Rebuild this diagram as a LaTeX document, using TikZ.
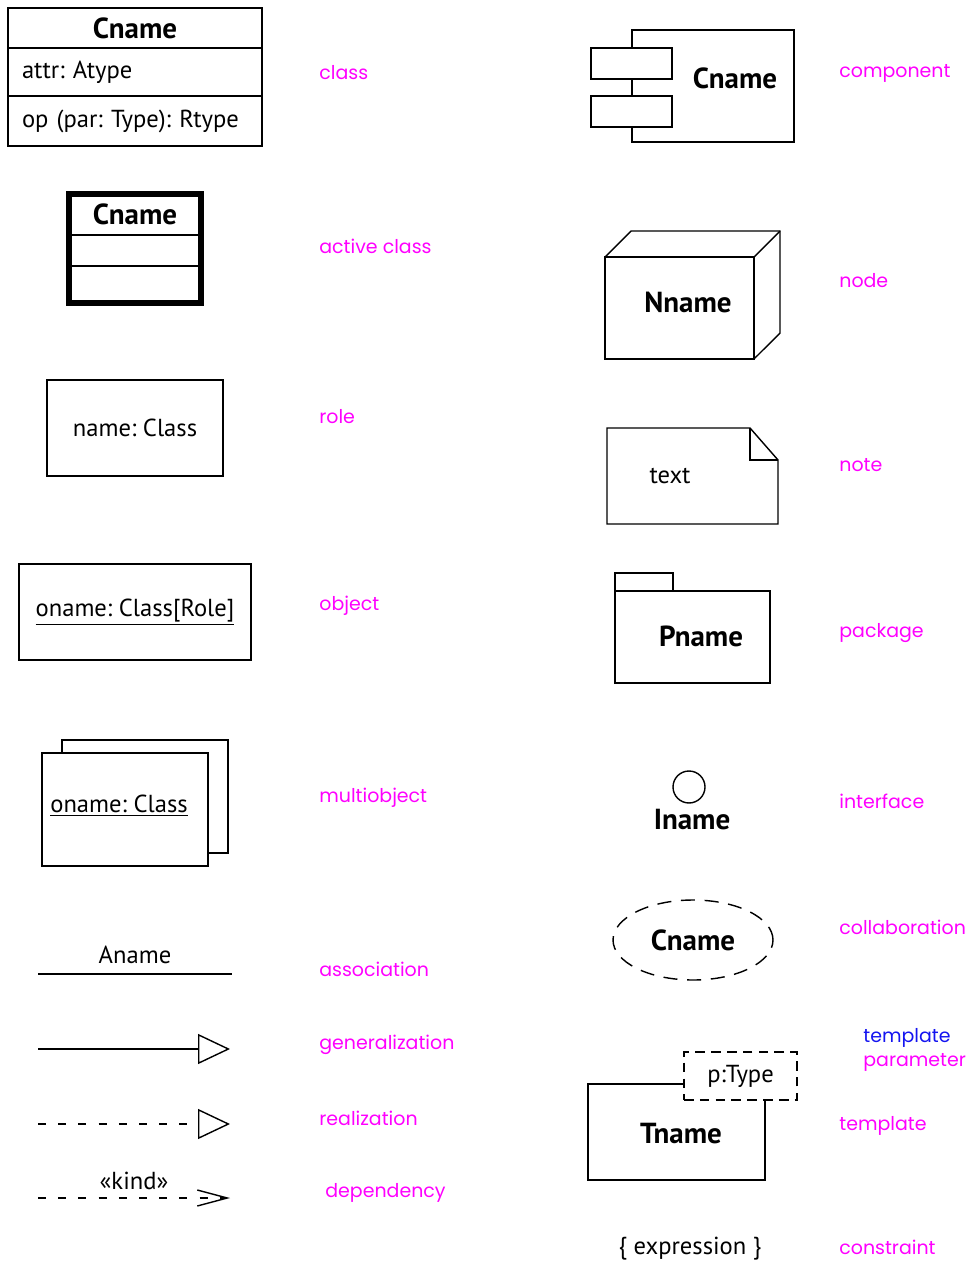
\documentclass[tikz,border=0pt]{standalone}
\usepackage{fontspec}
\setmainfont{PT Sans}
\newfontfamily\tagfont{Poppins}
\usetikzlibrary{arrows.meta,positioning,fit,shapes.geometric}
\usepackage{xcolor}
\definecolor{tagpink}{RGB}{255,0,255}
\definecolor{tagblue}{RGB}{20,20,240}
\frenchspacing

\begin{document}
\begin{tikzpicture}[
    x=0.02cm, y=-0.02cm,
    every node/.style={font=\fontsize{14}{16}\selectfont},
    box/.style={draw, line width=0.8pt, inner sep=0pt, outer sep=0pt, align=center},
    title/.style={font=\fontsize{16.5}{19}\selectfont\bfseries},
    tag/.style={anchor=west, inner sep=0pt, text=tagpink, font=\fontsize{10.8}{13}\selectfont\tagfont},
    line/.style={line width=0.8pt},
    dashline/.style={line width=0.8pt, dash pattern=on 4.5pt off 7pt},
]
    \useasboundingbox (0,0) rectangle (975,1263);

    \node[box, title, minimum width=5.08cm, minimum height=0.8cm] (cls) at (135,28) {Cname};
    \node[box, below=0pt of cls, minimum width=5.08cm, minimum height=0.96cm, text width=4.52cm, align=left] (clsattr) {attr: Atype};
    \node[box, below=0pt of clsattr, minimum width=5.08cm, minimum height=1cm, text width=4.52cm, align=left] (clsop) {op (par: Type): Rtype};

    \node[box, title, minimum width=2.64cm, minimum height=0.82cm] (act) at (135,214.5) {Cname};
    \node[box, below=0pt of act, minimum width=2.64cm, minimum height=0.62cm] (actattr) {};
    \node[box, below=0pt of actattr, minimum width=2.64cm, minimum height=0.74cm] (actop) {};
    \node[draw, line width=3pt, inner sep=0pt, fit=(act)(actop)] (actframe) {};

    \node[box, minimum width=3.52cm, minimum height=1.92cm] (role) at (135,428) {name: Class};

    \node[box, minimum width=4.64cm, minimum height=1.92cm] (obj) at (135,612) {\underline{oname: Class[Role]}};

    \node[box, fill=white, minimum width=3.32cm, minimum height=2.26cm] (mobjback) at (145,796.5) {};
    \node[box, fill=white, minimum width=3.32cm, minimum height=2.26cm] (mobj) at (125,809.5) {};
    \node[anchor=west, inner sep=0pt] (mobjname) at (50,806) {\underline{oname: Class}};

    \coordinate (assocA) at (38,974);
    \coordinate (assocB) at (232,974);
    \draw[line] (assocA) -- node[above=2pt] (aname) {Aname} (assocB);

    \coordinate (genA) at (38,1049);
    \coordinate (genB) at (230,1049);
    \draw[line, -{Triangle[open, length=0.64cm, width=0.6cm]}] (genA) -- (genB);

    \coordinate (realA) at (38,1124);
    \coordinate (realB) at (230,1124);
    \draw[dashline, -{Triangle[open, length=0.64cm, width=0.6cm]}] (realA) -- (realB);

    \coordinate (depA) at (38,1198);
    \coordinate (depB) at (230,1198);
    \draw[dashline, -{Straight Barb[length=0.6cm, width=0.32cm]}] (depA) -- node[above=1pt] (kind) {«kind»} (depB);

    \node[tag] (tagcls) at (319,73) {class};
    \node[tag] (tagact) at (319,246) {active class};
    \node[tag] (tagrole) at (319,417) {role};
    \node[tag] (tagobj) at (319,606) {object};
    \node[tag] (tagmobj) at (319,798) {multiobject};
    \node[tag] (tagassoc) at (319,969) {association};
    \node[tag] (taggen) at (319,1045) {generalization};
    \node[tag] (tagreal) at (319,1118) {realization};
    \node[tag] (tagdep) at (325,1193) {dependency};

    \node[box, minimum width=3.24cm, minimum height=2.24cm] (comp) at (713,86) {};
    \node[box, fill=white, minimum width=1.62cm, minimum height=0.62cm] (compbarA) at (631.5,63.5) {};
    \node[box, fill=white, minimum width=1.62cm, minimum height=0.62cm] (compbarB) at (631.5,111.5) {};
    \node[title] (compname) at (735,78) {Cname};

    \node[box, minimum width=2.98cm, minimum height=2.04cm] (dnode) at (679.5,308) {};
    \draw[line] (dnode.north west) -- ++(26,-26) -- ++(149,0) -- ++(0,102) -- (dnode.south east);
    \draw[line] (dnode.north east) -- ++(26,-26);
    \node[title] (dnodename) at (688,302) {Nname};

    \draw[line] (607,428) -- (750,428) -- (778,460) -- (778,524) -- (607,524) -- cycle;
    \draw[line] (750,428) -- (750,460) -- (778,460);
    \node (notetext) at (670,476) {text};

    \node[box, minimum width=3.1cm, minimum height=1.84cm] (pkg) at (692.5,637) {};
    \node[box, anchor=south west, minimum width=1.16cm, minimum height=0.36cm] (pkgtab) at (pkg.north west) {};
    \node[title] (pkgname) at (701,636) {Pname};

    \node[draw, line width=0.8pt, circle, minimum size=0.64cm, inner sep=0pt] (iface) at (689,787) {};
    \node[title] (ifacename) at (692,820) {Iname};

    \node[box, ellipse, title, dash pattern=on 8pt off 5.5pt, minimum width=3.2cm, minimum height=1.6cm] (collab) at (693,940) {Cname};

    \node[box, dash pattern=on 5.5pt off 3.5pt, minimum width=2.26cm, minimum height=0.96cm] (tparam) at (740.5,1076) {p:Type};
    \draw[line] (684,1084) -- (588,1084) -- (588,1180) -- (765,1180) -- (765,1100);
    \node[title] (tname) at (681,1134) {Tname};

    \node (constr) at (690,1249) {\{ expression \}};

    \node[tag] (tagcomp) at (839,73) {component};
    \node[tag] (tagnode) at (839,281) {node};
    \node[tag] (tagnote) at (839,465) {note};
    \node[tag] (tagpkg) at (839,633) {package};
    \node[tag] (tagiface) at (839,801) {interface};
    \node[tag] (tagcollab) at (839,927) {collaboration};
    \node[tag, text=tagblue] (tagtpl) at (863,1038) {template};
    \node[tag] (tagpar) at (863,1062) {parameter};
    \node[tag] (tagtemp) at (839,1126) {template};
    \node[tag] (tagconstr) at (839,1247) {constraint};

\end{tikzpicture}
\end{document}
